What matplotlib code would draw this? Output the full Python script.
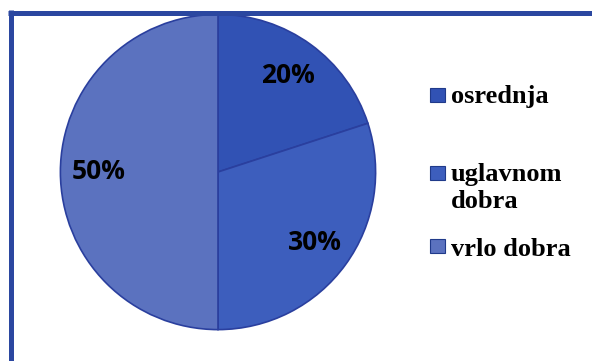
import matplotlib.pyplot as plt
from matplotlib.patches import Rectangle
from matplotlib.lines import Line2D

labels = ["osrednja", "uglavnom\ndobra", "vrlo dobra"]
values = [20, 30, 50]
colors = ["#3152b4", "#3d5ebd", "#5b72bf"]

W, H = 592, 361
fig = plt.figure(figsize=(W / 100, H / 100), dpi=100)
fig.patch.set_facecolor("white")

# pie area (pixel box converted to figure fraction)
cx, cy, r = 218, 172, 160
ax = fig.add_axes([(cx - r) / W, (H - cy - r) / H, 2 * r / W, 2 * r / H])
wedges, texts, autotexts = ax.pie(
    values, colors=colors, startangle=90, counterclock=False,
    radius=0.985, autopct="%d%%", pctdistance=0.76,
    wedgeprops=dict(edgecolor="#2a3f9e", linewidth=1.2),
    textprops=dict(fontsize=19, fontweight="bold", color="black",
                   family="Open Sans"))
ax.set_xlim(-1, 1)
ax.set_ylim(-1, 1)
ax.set_aspect("equal")
ax.axis("off")

# legend drawn by hand: marker centre y and first text line y (pixels from top)
mark_y = [95, 173, 246]
text_y = [97, 175, 249]
for lab, col, my, ty in zip(labels, colors, mark_y, text_y):
    fig.patches.append(Rectangle((430 / W, (H - my - 7) / H), 15 / W, 14 / H,
                                 transform=fig.transFigure, facecolor=col,
                                 edgecolor="#203a8a", linewidth=0.8))
    for k, line in enumerate(lab.split("\n")):
        fig.text(451 / W, (H - ty - 27 * k) / H, line, fontsize=19,
                 fontweight="bold", family="Liberation Serif",
                 va="center", ha="left")

# frame
fc = "#2b47a0"
fig.lines.append(Line2D([10.5 / W, 10.5 / W], [0, (H - 10) / H], color=fc,
                        linewidth=3.6, transform=fig.transFigure,
                        solid_capstyle="butt"))
fig.lines.append(Line2D([8 / W, 1], [(H - 12.5) / H, (H - 12.5) / H], color=fc,
                        linewidth=3.6, transform=fig.transFigure,
                        solid_capstyle="butt"))

fig.savefig("out.png", dpi=100)
